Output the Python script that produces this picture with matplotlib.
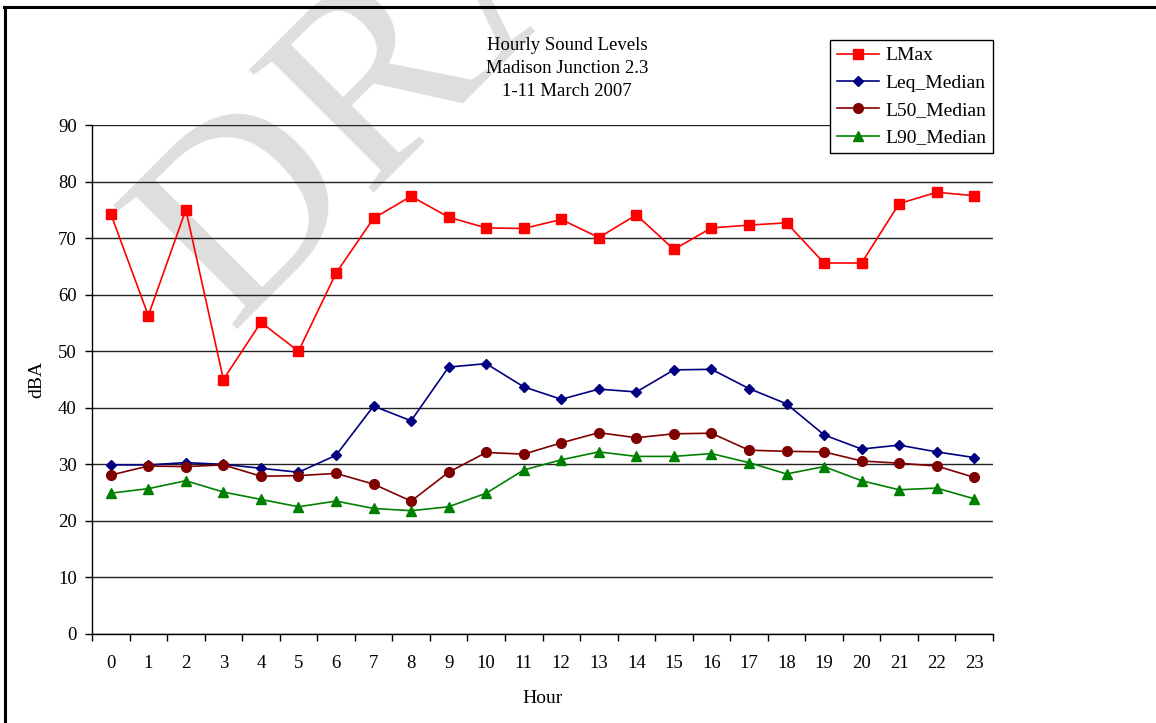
import numpy as np
import matplotlib.pyplot as plt
from matplotlib.lines import Line2D
from matplotlib.ticker import FixedLocator, NullFormatter

plt.rcParams['font.family'] = ['Liberation Serif', 'DejaVu Serif']

hours = list(range(24))
lmax = [74.3, 56.3, 75.0, 45.0, 55.1, 50.0, 63.8, 73.5, 77.4, 73.7, 71.8, 71.7,
        73.3, 70.1, 74.1, 68.0, 71.8, 72.3, 72.7, 65.6, 65.6, 76.1, 78.1, 77.5]
leq_median = [29.9, 29.9, 30.3, 30.0, 29.3, 28.6, 31.6, 40.3, 37.7, 47.2, 47.8, 43.7,
              41.5, 43.3, 42.8, 46.7, 46.8, 43.4, 40.7, 35.2, 32.7, 33.4, 32.2, 31.2]
l50_median = [28.1, 29.7, 29.6, 29.9, 27.9, 28.0, 28.4, 26.5, 23.5, 28.6, 32.1, 31.8,
              33.8, 35.6, 34.7, 35.4, 35.5, 32.5, 32.3, 32.2, 30.6, 30.2, 29.7, 27.7]
l90_median = [24.9, 25.7, 27.1, 25.1, 23.8, 22.5, 23.5, 22.2, 21.8, 22.5, 24.9, 29.0,
              30.8, 32.2, 31.4, 31.4, 31.9, 30.3, 28.3, 29.6, 27.1, 25.5, 25.8, 23.9]

W, H = 1156, 723
fig = plt.figure(figsize=(W / 100, H / 100), dpi=100)
ax = fig.add_axes([92 / W, 1 - 634 / H, (993 - 92) / W, (634 - 125) / H])
ax.patch.set_visible(False)

# watermark behind the chart
fig.text(230 / W, 1 - 330 / H, 'DRAFT', fontsize=192, color='#dedede',
         rotation=45, rotation_mode='anchor', ha='left', va='baseline', zorder=-5)

# partial frame around the page
fig.add_artist(Line2D([4 / W, 1], [1 - 7 / H, 1 - 7 / H], color='black', lw=2.2,
                      transform=fig.transFigure))
fig.add_artist(Line2D([5 / W, 5 / W], [0, 1 - 7 / H], color='black', lw=2.2,
                      transform=fig.transFigure))

ax.plot(hours, lmax, color='#ff0000', lw=1.2, marker='s', ms=7.5, label='LMax', zorder=5)
ax.plot(hours, leq_median, color='#000080', lw=1.2, marker='D', ms=5.5, label='Leq_Median', zorder=5)
ax.plot(hours, l50_median, color='#800000', lw=1.2, marker='o', ms=7, label='L50_Median', zorder=5)
ax.plot(hours, l90_median, color='#008000', lw=1.2, marker='^', ms=7.5, label='L90_Median', zorder=5)

ax.set_xlim(-0.5, 23.5)
ax.set_ylim(0, 90)
ax.set_yticks(range(0, 91, 10))
ax.yaxis.grid(True, color='#222222', lw=1.0)
ax.set_axisbelow(True)

ax.set_xticks(hours)
ax.xaxis.set_minor_locator(FixedLocator(np.arange(-0.5, 24, 1)))
ax.xaxis.set_minor_formatter(NullFormatter())
ax.tick_params(axis='x', which='major', length=0, pad=15, labelsize=13.5)
ax.tick_params(axis='x', which='minor', length=5, width=1, direction='out')
ax.tick_params(axis='y', length=5, width=1, direction='out', pad=6, labelsize=13.5)

for side in ['top', 'right']:
    ax.spines[side].set_visible(False)
ax.spines['left'].set_linewidth(1)
ax.spines['bottom'].set_linewidth(1)

ax.set_xlabel('Hour', fontsize=14, labelpad=13)
ax.set_ylabel('dBA', fontsize=14, labelpad=9)

title = 'Hourly Sound Levels\nMadison Junction 2.3\n1-11 March 2007'
fig.text(567 / W, 1 - 37 / H, title, ha='center', va='top', fontsize=13.5, linespacing=1.45)

leg = ax.legend(loc='upper right', bbox_to_anchor=(993 / W, 1 - 40 / H),
                bbox_transform=fig.transFigure, borderaxespad=0, fancybox=False,
                edgecolor='black', framealpha=1, fontsize=14, handlelength=2.2,
                handletextpad=0.3, labelspacing=0.5, borderpad=0.35)
leg.get_frame().set_linewidth(1)

fig.savefig('out.png', dpi=100)
